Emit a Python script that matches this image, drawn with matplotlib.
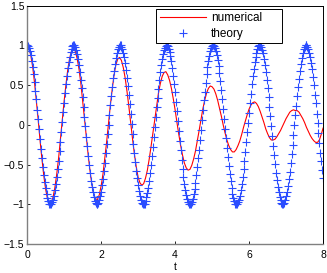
import numpy as np
import matplotlib
matplotlib.use("Agg")
import matplotlib.pyplot as plt

plt.rcParams['font.family'] = ['Liberation Sans', 'DejaVu Sans']

num_y = [1.00, 0.97, 0.87, 0.73, 0.53, 0.30, 0.06, -0.20, -0.43, -0.64,
         -0.81, -0.93, -0.98, -0.98, -0.91, -0.79, -0.62, -0.42, -0.18, 0.06,
         0.30, 0.51, 0.70, 0.84, 0.93, 0.96, 0.93, 0.84, 0.71, 0.53,
         0.31, 0.08, -0.15, -0.38, -0.58, -0.75, -0.87, -0.93, -0.94, -0.88,
         -0.77, -0.62, -0.42, -0.21, 0.02, 0.25, 0.45, 0.63, 0.76, 0.83,
         0.85, 0.81, 0.72, 0.59, 0.42, 0.23, 0.02, -0.18, -0.37, -0.53,
         -0.66, -0.73, -0.76, -0.74, -0.67, -0.57, -0.43, -0.27, -0.10, 0.08,
         0.25, 0.40, 0.52, 0.61, 0.66, 0.67, 0.63, 0.56, 0.46, 0.33,
         0.19, 0.03, -0.12, -0.26, -0.38, -0.48, -0.54, -0.57, -0.56, -0.51,
         -0.43, -0.33, -0.20, -0.07, 0.07, 0.20, 0.31, 0.40, 0.46, 0.49,
         0.48, 0.45, 0.39, 0.31, 0.21, 0.11, 0.00, -0.10, -0.19, -0.26,
         -0.31, -0.34, -0.34, -0.31, -0.26, -0.20, -0.12, -0.03, 0.05, 0.13,
         0.20, 0.25, 0.28, 0.29, 0.27, 0.23, 0.17, 0.10, 0.03, -0.05,
         -0.11, -0.16, -0.19, -0.19, -0.18, -0.15, -0.11, -0.07, -0.02, 0.03,
         0.08, 0.12, 0.16, 0.18, 0.19, 0.18, 0.18, 0.16, 0.12, 0.08,
         0.03, -0.03, -0.08, -0.13, -0.17, -0.20, -0.22, -0.22, -0.19, -0.12,
         -0.04]
num_t = np.linspace(0, 8, len(num_y))

# theory values, sampled every 0.025 from t = 0 to 8
theory_y = [
    1.00, 0.99, 0.97, 0.93, 0.88, 0.81, 0.73, 0.64, 0.54, 0.43, 0.32, 0.19, 0.07,
    -0.05, -0.18, -0.30, -0.42, -0.53, -0.63, -0.72, -0.80, -0.87, -0.92, -0.96,
    -0.99, -1.00, -0.99, -0.97, -0.94, -0.89, -0.82, -0.74, -0.65, -0.55, -0.45,
    -0.33, -0.21, -0.09, 0.04, 0.16, 0.28, 0.40, 0.51, 0.62, 0.71, 0.79, 0.86,
    0.92, 0.96, 0.99, 1.00,
    1.00, 0.98, 0.94, 0.89, 0.83, 0.75, 0.67, 0.57, 0.46, 0.35, 0.23, 0.10, -0.02,
    -0.15, -0.27, -0.39, -0.50, -0.60, -0.70, -0.78, -0.85, -0.91, -0.96, -0.98,
    -1.00, -1.00, -0.98, -0.95, -0.90, -0.84, -0.76, -0.68, -0.58, -0.48, -0.36,
    -0.24, -0.12, 0.00, 0.13, 0.25, 0.37, 0.48, 0.59, 0.68, 0.77, 0.84, 0.90,
    0.95, 0.98, 1.00,
    1.00, 0.98, 0.95, 0.91, 0.85, 0.78, 0.69, 0.59, 0.49, 0.38, 0.26, 0.14, 0.01,
    -0.11, -0.24, -0.35, -0.47, -0.58, -0.67, -0.76, -0.83, -0.90, -0.95, -0.98,
    -1.00, -1.00, -0.99, -0.96, -0.91, -0.86, -0.79, -0.70, -0.61, -0.50, -0.39,
    -0.28, -0.15, -0.03, 0.10, 0.22, 0.34, 0.45, 0.56, 0.66, 0.75, 0.83, 0.89,
    0.94, 0.97, 0.99,
    1.00, 0.99, 0.96, 0.92, 0.87, 0.80, 0.71, 0.62, 0.52, 0.41, 0.29, 0.17, 0.05,
    -0.08, -0.20, -0.32, -0.44, -0.55, -0.65, -0.74, -0.82, -0.88, -0.93, -0.97,
    -0.99, -1.00, -0.99, -0.97, -0.93, -0.87, -0.81, -0.73, -0.63, -0.53, -0.42,
    -0.31, -0.19, -0.06, 0.06, 0.19, 0.31, 0.42, 0.53, 0.64, 0.73, 0.81, 0.87,
    0.93, 0.97, 0.99,
    1.00, 0.99, 0.97, 0.93, 0.88, 0.82, 0.74, 0.65, 0.55, 0.44, 0.32, 0.20, 0.08,
    -0.05, -0.17, -0.29, -0.41, -0.52, -0.62, -0.71, -0.80, -0.87, -0.92, -0.96,
    -0.99, -1.00, -0.99, -0.97, -0.94, -0.89, -0.82, -0.75, -0.66, -0.56, -0.45,
    -0.34, -0.22, -0.09, 0.03, 0.15, 0.28, 0.39, 0.51, 0.61, 0.70, 0.79, 0.86,
    0.91, 0.96, 0.99,
    1.00, 1.00, 0.98, 0.94, 0.90, 0.83, 0.76, 0.67, 0.57, 0.47, 0.35, 0.23, 0.11,
    -0.01, -0.14, -0.26, -0.38, -0.49, -0.60, -0.69, -0.78, -0.85, -0.91, -0.95,
    -0.98, -1.00, -1.00, -0.98, -0.95, -0.90, -0.84, -0.77, -0.68, -0.59, -0.48,
    -0.37, -0.25, -0.13, 0.00, 0.12, 0.24, 0.36, 0.48, 0.58, 0.68, 0.77, 0.84,
    0.90, 0.95, 0.98,
    1.00, 1.00, 0.98, 0.96, 0.91, 0.85, 0.78, 0.70, 0.60, 0.50, 0.38, 0.27, 0.14,
    0.02, -0.10, -0.23, -0.35, -0.46, -0.57, -0.67]
theory_t = np.linspace(0, 8, len(theory_y))

xticks = [0, 2, 4, 6, 8]
yticks = [-1.5, -1, -0.5, 0, 0.5, 1, 1.5]
ytick_labels = ['\u22121.5', '\u22121', '\u22120.5', '0', '0.5', '1', '1.5']

fig = plt.figure(figsize=(3.27, 2.73), dpi=100)
ax = fig.add_axes([0.083, 0.106, 0.905, 0.873])

ax.plot(num_t, num_y, color='red', lw=0.8, label='numerical')
ax.plot(theory_t, theory_y, ls='none', marker='+', ms=6, mew=0.8,
        color='#2a4cff', label='theory')

ax.set_xlim(0, 8)
ax.set_ylim(-1.5, 1.5)
ax.set_xticks(xticks)
ax.set_yticks(yticks)
ax.set_yticklabels(ytick_labels)
ax.tick_params(direction='in', length=2.5, width=0.6, labelsize=7.5, pad=2)
ax.tick_params(axis='x', pad=4)
ax.set_xlabel('t', fontsize=7.5, labelpad=2)

for side in ['left', 'bottom']:
    ax.spines[side].set_color('#808080')
    ax.spines[side].set_linewidth(1.0)
for side in ['top', 'right']:
    ax.spines[side].set_color('black')
    ax.spines[side].set_linewidth(0.7)

# box stretched to the width seen in the reference, text kept at the left
leg = ax.legend(loc='upper left', bbox_to_anchor=(0.436, 0.0, 0.426, 0.987),
                mode='expand', fontsize=8.5,
                fancybox=False, framealpha=1, edgecolor='black',
                handlelength=3.9, handletextpad=0.45, borderpad=0.3,
                labelspacing=0.3, borderaxespad=0)
leg.get_frame().set_linewidth(0.7)

fig.savefig('out.png', dpi=100)
